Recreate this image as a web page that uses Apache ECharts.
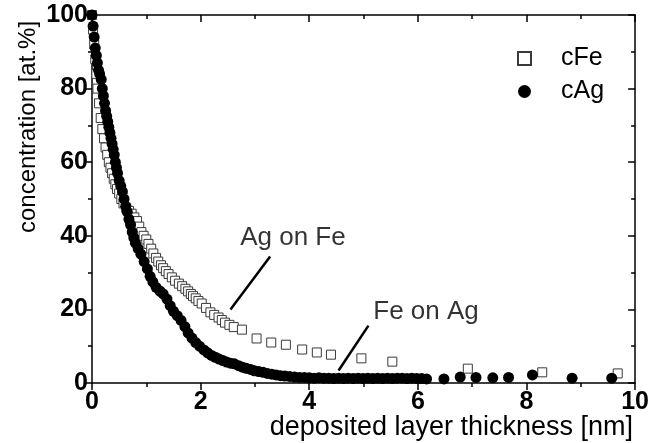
<!DOCTYPE html>
<html>
<head>
<meta charset="utf-8">
<script src="https://cdn.jsdelivr.net/npm/echarts@6/dist/echarts.min.js"></script>
<style>
html,body{margin:0;padding:0;background:#fff;}
#chart{width:652px;height:443px;}
</style>
</head>
<body>
<div id="chart"></div>
<script>
// cFe (open squares)
const cFeX = [0.00,0.02,0.04,0.06,0.08,0.10,0.13,0.16,0.19,0.22,0.25,0.28,0.31,0.34,0.37,0.40,0.43,0.46,0.50,0.54,0.58,0.63,0.68,0.73,0.78,0.83,0.87,0.91,0.95,1.00,1.04,1.09,1.13,1.18,1.22,1.27,1.31,1.36,1.41,1.47,1.53,1.60,1.66,1.72,1.77,1.82,1.86,1.91,1.96,2.02,2.10,2.18,2.25,2.33,2.39,2.45,2.53,2.61,2.76,3.03,3.30,3.57,3.87,4.14,4.40,4.96,5.53,6.92,8.29,9.68];
const cFeY = [100,96,92,88,84,80,76,72,69,66.5,64,62,60,58.5,57,55.5,54,52.7,51.5,50,48.8,47.6,46.8,46,45,44,42.5,41,40,39,37.8,36.5,35.2,34,33,32,31.2,30.4,29.6,28.7,27.8,27,26.3,25.6,24.9,24.2,23.6,23,22.3,21.6,20.4,19.2,18.5,17.8,17.1,16.4,15.8,15.2,14.5,12.1,11.0,10.4,9.1,8.3,7.7,6.7,5.8,3.9,2.9,2.6];
// cAg (filled circles)
const cAgX = [0.00,0.02,0.04,0.06,0.08,0.10,0.12,0.14,0.17,0.19,0.21,0.23,0.25,0.27,0.29,0.31,0.33,0.35,0.37,0.39,0.41,0.43,0.45,0.47,0.50,0.53,0.56,0.59,0.62,0.65,0.68,0.71,0.74,0.77,0.80,0.85,0.90,0.96,1.02,1.07,1.12,1.18,1.25,1.31,1.38,1.44,1.50,1.57,1.64,1.71,1.77,1.84,1.91,1.98,2.06,2.13,2.20,2.27,2.34,2.41,2.48,2.55,2.62,2.70,2.77,2.84,2.92,2.99,3.07,3.15,3.23,3.31,3.39,3.47,3.55,3.64,3.73,3.82,3.91,4.00,4.09,4.18,4.27,4.36,4.45,4.54,4.63,4.72,4.81,4.90,4.99,5.08,5.17,5.26,5.35,5.44,5.53,5.62,5.71,5.80,5.89,5.98,6.07,6.16,6.48,6.78,7.07,7.38,7.67,8.11,8.84,9.57];
const cAgY = [100,97,94,91,89,87,85,84,82.5,80,78,76,74,72.5,71,69.5,68,66.5,65,63.5,62,60,58.5,57,55,53.5,52,50,48,46.5,44.5,43,41,39.5,38,36.5,35,33,31,29,27.5,26,25,24.2,22.8,21,19.5,18.3,17,15.3,13.6,12.2,11,10,9,8.2,7.5,7,6.5,6.1,5.7,5.4,5.2,4.7,4.3,4.0,3.7,3.3,3.1,2.9,2.6,2.4,2.2,2.0,1.9,1.8,1.6,1.5,1.5,1.4,1.3,1.4,1.3,1.3,1.2,1.3,1.2,1.3,1.2,1.3,1.2,1.3,1.2,1.3,1.2,1.3,1.2,1.3,1.3,1.2,1.3,1.2,1.2,1.1,1.1,1.6,1.5,1.4,1.5,2.2,1.3,1.3];
// annotations
const annoText = ['Ag on Fe', 'Fe on Ag'];
const annoPos = [[3.70, 39.5], [6.15, 19.4]];
const annoLines = [[[3.28, 34.4], [2.55, 20.0]], [[5.09, 15.6], [4.54, 3.4]]];
const xTicks = [0, 2, 4, 6, 8, 10];
const yTicks = [0, 20, 40, 60, 80, 100];

const FONT = 'Liberation Sans, Arial, Helvetica, sans-serif';
const chart = echarts.init(document.getElementById('chart'));
const axisLine = {show: true, onZero: false, lineStyle: {color: '#000', width: 1.5}};
function xAx(pos, inside, labels) {
  return {
    type: 'value', position: pos, min: xTicks[0], max: xTicks[xTicks.length - 1], interval: xTicks[1] - xTicks[0],
    axisLine: axisLine,
    axisTick: {show: true, inside: inside, length: 7, lineStyle: {color: '#000', width: 1.5}},
    minorTick: {show: true, splitNumber: 2, length: 4, lineStyle: {color: '#000', width: 1.5}},
    splitLine: {show: false}, minorSplitLine: {show: false},
    axisLabel: {show: labels, color: '#000', fontSize: 25, fontWeight: 'bold', fontFamily: FONT, margin: 7}
  };
}
function yAx(pos, inside, labels) {
  return {
    type: 'value', position: pos, min: yTicks[0], max: yTicks[yTicks.length - 1], interval: yTicks[1] - yTicks[0],
    axisLine: axisLine,
    axisTick: {show: true, inside: inside, length: 7, lineStyle: {color: '#000', width: 1.5}},
    minorTick: {show: true, splitNumber: 2, length: 4, lineStyle: {color: '#000', width: 1.5}},
    splitLine: {show: false}, minorSplitLine: {show: false},
    axisLabel: {show: labels, color: '#000', fontSize: 25, fontWeight: 'bold', fontFamily: FONT, margin: 4}
  };
}
const option = {
  animation: false,
  backgroundColor: '#fff',
  grid: {left: 92, right: 12, top: 15, bottom: 60, containLabel: false},
  xAxis: [xAx('bottom', false, true), xAx('top', true, false)],
  yAxis: [yAx('left', false, true), yAx('right', true, false)],
  legend: {
    data: ['cFe', 'cAg'], orient: 'vertical', left: 512, top: 41,
    itemWidth: 13, itemHeight: 13, itemGap: 8,
    textStyle: {fontSize: 25, fontFamily: FONT, color: '#000', lineHeight: 25, padding: [0, 0, 0, 25]}
  },
  graphic: [
    {type: 'text', x: 633, y: 428,
     style: {text: 'deposited layer thickness [nm]', font: '27px ' + FONT, fill: '#000', align: 'right', verticalAlign: 'middle'}},
    {type: 'text', x: 28, y: 127, rotation: Math.PI / 2,
     style: {text: 'concentration [at.%]', font: '24px ' + FONT, fill: '#000', align: 'center', verticalAlign: 'middle'}}
  ],
  series: [
    {
      name: 'cFe', type: 'scatter', symbol: 'rect', symbolSize: 9,
      itemStyle: {color: '#fff', borderColor: '#3a3a3a', borderWidth: 1, opacity: 1},
      data: cFeX.map((x, i) => [x, cFeY[i]]), z: 2
    },
    {
      name: 'cAg', type: 'scatter', symbol: 'circle', symbolSize: 11,
      itemStyle: {color: '#000', opacity: 1},
      data: cAgX.map((x, i) => [x, cAgY[i]]), z: 3
    },
    {
      name: 'annotations', type: 'scatter', symbol: 'circle', symbolSize: 1,
      itemStyle: {color: 'rgba(0,0,0,0)'},
      data: annoPos.map((p, i) => ({value: p, name: annoText[i]})),
      label: {show: true, position: 'inside', formatter: p => p.name, fontSize: 26, fontFamily: FONT, color: '#000'},
      labelLayout: {hideOverlap: false},
      silent: true, z: 4,
      markLine: {
        silent: true, symbol: 'none', animation: false,
        lineStyle: {color: '#000', width: 2.5, type: 'solid'},
        label: {show: false},
        data: annoLines.map(l => [{coord: l[0]}, {coord: l[1]}])
      }
    }
  ]
};
chart.setOption(option);
</script>
</body>
</html>
